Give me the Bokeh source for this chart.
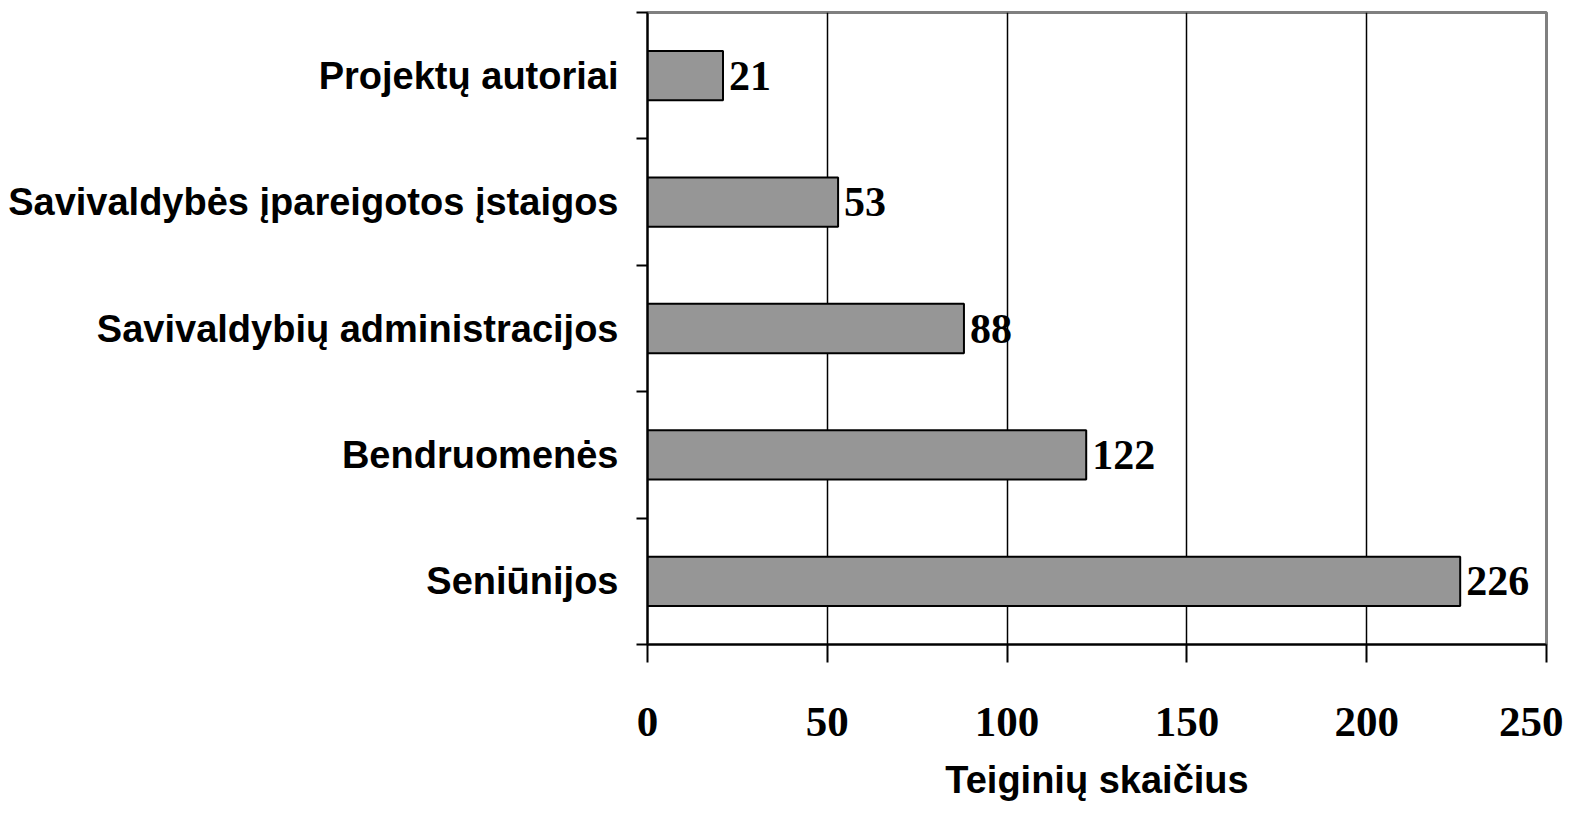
from bokeh.plotting import figure
from bokeh.models import ColumnDataSource, FixedTicker, Range1d
from bokeh.embed import file_html
from bokeh.resources import INLINE
from bokeh.core.properties import value

categories = ["Seniūnijos", "Bendruomenės", "Savivaldybių administracijos",
              "Savivaldybės įpareigotos įstaigos", "Projektų autoriai"]
counts = [226, 122, 88, 53, 21]
x_ticks = [0, 50, 100, 150, 200, 250]
x_title = "Teiginių skaičius"

ypos = [i + 0.5 for i in range(len(categories))]
src = ColumnDataSource(dict(y=ypos, v=counts, lbl=[str(c) for c in counts]))

p = figure(width=1563, height=815, output_backend="svg", toolbar_location=None,
           x_range=Range1d(0, 250), y_range=Range1d(0, len(categories)),
           min_border_left=647, min_border_right=17, min_border_top=12, min_border_bottom=171)

p.hbar(y="y", right="v", left=0, height=0.39, source=src,
       fill_color="#969696", line_color="black", line_width=2)
p.text(x="v", y="y", text="lbl", source=src, x_offset=6,
       text_font=value("Liberation Serif"), text_font_style="bold",
       text_font_size="42px", text_baseline="middle", text_align="left", text_color="black")

p.outline_line_color = "#808080"
p.outline_line_width = 3
p.background_fill_color = "white"
p.border_fill_color = "white"

p.ygrid.visible = False
p.xgrid.ticker = FixedTicker(ticks=x_ticks)
p.xgrid.grid_line_color = "black"
p.xgrid.grid_line_width = 1.5

xa = p.xaxis[0]
xa.ticker = FixedTicker(ticks=x_ticks)
xa.axis_line_color = "black"
xa.axis_line_width = 2
xa.major_tick_out = 18
xa.major_tick_in = 0
xa.major_tick_line_width = 2
xa.major_tick_line_color = "black"
xa.minor_tick_line_color = None
xa.major_label_text_font = "Liberation Serif"
xa.major_label_text_font_style = "bold"
xa.major_label_text_font_size = "43px"
xa.major_label_text_color = "black"
xa.major_label_standoff = 45
xa.axis_label = x_title
xa.axis_label_text_font = "Liberation Sans"
xa.axis_label_text_font_style = "bold"
xa.axis_label_text_font_size = "38px"
xa.axis_label_text_color = "black"
xa.axis_label_standoff = 20

ya = p.yaxis[0]
ya.ticker = FixedTicker(ticks=ypos, minor_ticks=list(range(len(categories) + 1)))
ya.major_label_overrides = {yv: c for yv, c in zip(ypos, categories)}
ya.axis_line_color = "black"
ya.axis_line_width = 2
ya.major_tick_out = 0
ya.major_tick_in = 0
ya.minor_tick_out = 11
ya.minor_tick_in = 0
ya.minor_tick_line_color = "black"
ya.minor_tick_line_width = 2
ya.major_label_text_font = "Liberation Sans"
ya.major_label_text_font_style = "bold"
ya.major_label_text_font_size = "38px"
ya.major_label_text_color = "black"
ya.major_label_standoff = 18

open("out.html", "w").write(file_html(p, INLINE))
